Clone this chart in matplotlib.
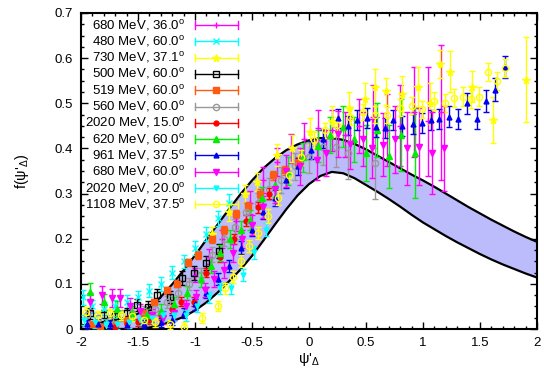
import matplotlib
matplotlib.use("Agg")
import matplotlib.pyplot as plt
from matplotlib.ticker import MultipleLocator, FuncFormatter

plt.rcParams['font.family'] = ['Liberation Sans', 'DejaVu Sans']
plt.rcParams['mathtext.fontset'] = 'custom'
plt.rcParams['mathtext.rm'] = 'Liberation Sans'
plt.rcParams['mathtext.it'] = 'Liberation Sans:italic'
plt.rcParams['mathtext.bf'] = 'Liberation Sans:bold'
plt.rcParams['axes.unicode_minus'] = False

# Scaling-function band (upper / lower edge) on a psi' grid
psi_grid = [-2.0, -1.9, -1.8, -1.7, -1.6, -1.5, -1.4, -1.3, -1.2, -1.1, -1.0,
            -0.9, -0.8, -0.7, -0.6, -0.5, -0.4, -0.3, -0.2, -0.1, 0.0,
            0.1, 0.2, 0.3, 0.4, 0.5, 0.6, 0.7, 0.8, 0.9, 1.0,
            1.1, 1.2, 1.3, 1.4, 1.5, 1.6, 1.7, 1.8, 1.9, 2.0]
band_upper = [0.008, 0.011, 0.015, 0.020, 0.026, 0.034, 0.048, 0.071, 0.099, 0.130, 0.163,
              0.198, 0.232, 0.266, 0.299, 0.329, 0.356, 0.378, 0.396, 0.409, 0.418,
              0.423, 0.423, 0.419, 0.410, 0.398, 0.384, 0.370, 0.356, 0.342, 0.329,
              0.315, 0.300, 0.285, 0.270, 0.256, 0.242, 0.229, 0.216, 0.204, 0.193]
band_lower = [0.0, 0.0, 0.0, 0.0, 0.0, 0.0, 0.003, 0.009, 0.017, 0.027, 0.041,
              0.059, 0.081, 0.106, 0.132, 0.162, 0.196, 0.231, 0.265, 0.296, 0.321,
              0.339, 0.348, 0.345, 0.334, 0.319, 0.304, 0.288, 0.271, 0.253, 0.236,
              0.221, 0.206, 0.192, 0.179, 0.166, 0.154, 0.143, 0.133, 0.123, 0.114]

# Data sets: psi', f(psi'), error
x_680_36 = [-1.0, -0.88, -0.76, -0.64, -0.52, -0.4, -0.28, -0.16, -0.04, 0.08, 0.2, 0.32, 0.44, 0.56, 0.68, 0.8, 0.92, 1.04, 1.16]
y_680_36 = [0.12, 0.16, 0.2, 0.24, 0.28, 0.33, 0.37, 0.4, 0.42, 0.445, 0.44, 0.43, 0.45, 0.47, 0.44, 0.45, 0.48, 0.46, 0.48]
e_680_36 = [0.015, 0.017, 0.02, 0.022, 0.025, 0.028, 0.03, 0.033, 0.037, 0.04, 0.045, 0.05, 0.06, 0.07, 0.08, 0.09, 0.1, 0.12, 0.15]

x_480_60 = [-1.98, -1.9, -1.8, -1.7, -1.6, -1.5, -1.4, -1.3, -1.2, -1.1, -1.0, -0.9, -0.8, -0.7]
y_480_60 = [0.07, 0.05, 0.045, 0.05, 0.06, 0.07, 0.085, 0.10, 0.125, 0.15, 0.18, 0.21, 0.245, 0.28]
e_480_60 = [0.016, 0.015, 0.015, 0.015, 0.015, 0.015, 0.015, 0.015, 0.015, 0.015, 0.016, 0.016, 0.017, 0.018]

x_730_37 = [-0.85, -0.7, -0.56, -0.46, -0.28, -0.15, 0.01, 0.2, 0.35, 0.49, 0.58, 0.675, 0.82, 0.96, 1.06, 1.15, 1.24, 1.43, 1.61, 1.9]
y_730_37 = [0.21, 0.26, 0.30, 0.326, 0.385, 0.40, 0.437, 0.46, 0.49, 0.51, 0.535, 0.527, 0.52, 0.536, 0.50, 0.587, 0.57, 0.537, 0.463, 0.552]
e_730_37 = [0.015, 0.02, 0.02, 0.02, 0.025, 0.03, 0.03, 0.035, 0.035, 0.035, 0.04, 0.03, 0.04, 0.045, 0.045, 0.03, 0.045, 0.035, 0.05, 0.094]

x_500_60 = [-1.92, -1.8, -1.7, -1.6, -1.51, -1.41, -1.33, -1.22, -1.11, -1.01, -0.9, -0.79]
y_500_60 = [0.035, 0.03, 0.028, 0.035, 0.053, 0.049, 0.075, 0.071, 0.113, 0.124, 0.146, 0.173]
e_500_60 = [0.012, 0.012, 0.012, 0.012, 0.013, 0.013, 0.014, 0.014, 0.015, 0.015, 0.016, 0.016]

x_519_60 = [-1.9, -1.83, -1.7, -1.6, -1.45, -1.36, -1.25, -1.16, -1.06, -0.97, -0.853, -0.746, -0.64, -0.532, -0.43, -0.316, -0.21, -0.096]
y_519_60 = [0.01, 0.005, 0.012, 0.02, 0.036, 0.06, 0.086, 0.10, 0.148, 0.164, 0.20, 0.219, 0.255, 0.272, 0.30, 0.341, 0.352, 0.37]
e_519_60 = [0.006, 0.006, 0.006, 0.007, 0.007, 0.007, 0.008, 0.008, 0.008, 0.008, 0.009, 0.009, 0.009, 0.01, 0.01, 0.01, 0.01, 0.01]

x_560_60 = [-1.95, -1.85, -1.75, -1.65, -1.55, -1.45, -1.35, -1.25, -1.15, -1.05, -0.95, -0.85, -0.75, -0.65, -0.55, -0.45, -0.35, -0.25, -0.12, 0.0, 0.12, 0.237, 0.34, 0.58]
y_560_60 = [0.03, 0.025, 0.02, 0.03, 0.035, 0.04, 0.045, 0.06, 0.08, 0.10, 0.12, 0.165, 0.20, 0.225, 0.26, 0.28, 0.31, 0.33, 0.36, 0.38, 0.404, 0.403, 0.39, 0.368]
e_560_60 = [0.012, 0.012, 0.012, 0.012, 0.012, 0.012, 0.013, 0.013, 0.014, 0.014, 0.015, 0.016, 0.017, 0.018, 0.02, 0.022, 0.025, 0.028, 0.03, 0.035, 0.04, 0.045, 0.057, 0.08]

x_2020_15 = [-1.7, -1.6, -1.5, -1.4, -1.3, -1.2, -1.12, -1.01, -0.9, -0.78, -0.66, -0.55, -0.45, -0.35]
y_2020_15 = [0.005, 0.01, 0.015, 0.02, 0.03, 0.045, 0.06, 0.06, 0.125, 0.16, 0.20, 0.24, 0.27, 0.30]
e_2020_15 = [0.008, 0.008, 0.008, 0.009, 0.009, 0.01, 0.01, 0.01, 0.01, 0.011, 0.011, 0.012, 0.012, 0.013]

x_620_60 = [-1.92, -1.8, -1.68, -1.55, -1.42, -1.3, -1.18, -1.07, -0.95, -0.86, -0.78, -0.69, -0.6, -0.52, -0.41, -0.3, -0.18, -0.05, 0.08, 0.18, 0.295, 0.395, 0.5, 0.6, 0.70, 0.81, 0.93]
y_620_60 = [0.083, 0.06, 0.045, 0.035, 0.03, 0.04, 0.055, 0.08, 0.11, 0.14, 0.168, 0.2, 0.22, 0.241, 0.29, 0.32, 0.35, 0.38, 0.405, 0.43, 0.448, 0.42, 0.39, 0.44, 0.383, 0.43, 0.39]
e_620_60 = [0.02, 0.018, 0.016, 0.015, 0.015, 0.015, 0.015, 0.016, 0.016, 0.017, 0.018, 0.02, 0.02, 0.022, 0.025, 0.028, 0.03, 0.032, 0.035, 0.04, 0.045, 0.05, 0.063, 0.06, 0.07, 0.08, 0.1]

x_961_37 = [-1.95, -1.85, -1.75, -1.6, -1.45, -1.3, -1.2, -1.1, -1.0, -0.9, -0.8, -0.7, -0.6, -0.5, -0.4, -0.3, -0.2, -0.1, 0.02, 0.12, 0.25, 0.34, 0.42, 0.51, 0.59, 0.67, 0.74, 0.82, 0.91, 0.99, 1.07, 1.14, 1.23, 1.31, 1.39, 1.47, 1.55, 1.63, 1.72]
y_961_37 = [0.01, 0.012, 0.01, 0.008, 0.01, 0.015, 0.02, 0.035, 0.055, 0.08, 0.11, 0.14, 0.18, 0.22, 0.26, 0.29, 0.33, 0.36, 0.397, 0.42, 0.467, 0.45, 0.463, 0.467, 0.448, 0.445, 0.463, 0.45, 0.455, 0.456, 0.463, 0.465, 0.47, 0.465, 0.50, 0.465, 0.505, 0.53, 0.58]
e_961_37 = [0.01, 0.01, 0.01, 0.01, 0.01, 0.01, 0.011, 0.011, 0.012, 0.012, 0.013, 0.013, 0.014, 0.015, 0.016, 0.017, 0.018, 0.019, 0.02, 0.02, 0.021, 0.021, 0.022, 0.022, 0.022, 0.022, 0.022, 0.022, 0.022, 0.022, 0.022, 0.022, 0.023, 0.023, 0.023, 0.023, 0.024, 0.025, 0.025]

x_680_60 = [-1.92, -1.82, -1.73, -1.66, -1.57, -1.48, -1.38, -1.28, -1.18, -1.08, -0.99, -0.91, -0.83, -0.75, -0.67, -0.59, -0.5, -0.4, -0.3, -0.2, -0.08, 0.067, 0.15, 0.25, 0.36, 0.47, 0.55, 0.65, 0.755, 0.86, 0.965, 1.08, 1.18]
y_680_60 = [0.06, 0.075, 0.068, 0.068, 0.05, 0.04, 0.03, 0.025, 0.035, 0.05, 0.07, 0.086, 0.11, 0.13, 0.168, 0.2, 0.23, 0.27, 0.31, 0.35, 0.36, 0.374, 0.39, 0.432, 0.41, 0.42, 0.40, 0.408, 0.42, 0.40, 0.404, 0.39, 0.40]
e_680_60 = [0.02, 0.02, 0.02, 0.02, 0.018, 0.016, 0.015, 0.015, 0.014, 0.015, 0.016, 0.016, 0.018, 0.018, 0.02, 0.02, 0.022, 0.025, 0.03, 0.035, 0.04, 0.045, 0.05, 0.05, 0.055, 0.06, 0.065, 0.07, 0.075, 0.08, 0.085, 0.09, 0.095]

x_2020_20 = [-1.97, -1.88, -1.78, -1.68, -1.58, -1.48, -1.38, -1.28, -1.18, -1.08, -0.98, -0.88, -0.78, -0.68, -0.58, -0.48, -0.38]
y_2020_20 = [0.02, 0.015, 0.01, 0.012, 0.015, 0.02, 0.025, 0.03, 0.03, 0.03, 0.05, 0.07, 0.09, 0.09, 0.12, 0.17, 0.22]
e_2020_20 = [0.012, 0.012, 0.012, 0.012, 0.012, 0.012, 0.012, 0.012, 0.012, 0.012, 0.012, 0.013, 0.013, 0.013, 0.014, 0.014, 0.015]

x_1108_37 = [-1.96, -1.85, -1.75, -1.65, -1.55, -1.45, -1.35, -1.22, -1.1, -0.94, -0.8, -0.74, -0.67, -0.6, -0.53, -0.45, -0.36, -0.27, -0.175, -0.07, 0.04, 0.14, 0.245, 0.36, 0.47, 0.58, 0.68, 0.8, 0.9, 0.99, 1.1, 1.19, 1.27, 1.35, 1.42, 1.49, 1.57, 1.65, 1.72]
y_1108_37 = [0.038, 0.03, 0.035, 0.03, 0.028, 0.02, 0.015, 0.01, 0.005, 0.024, 0.051, 0.09, 0.116, 0.15, 0.184, 0.213, 0.25, 0.29, 0.341, 0.38, 0.419, 0.44, 0.452, 0.47, 0.48, 0.475, 0.474, 0.49, 0.495, 0.487, 0.505, 0.50, 0.512, 0.515, 0.51, 0.515, 0.57, 0.549, 0.579]
e_1108_37 = [0.01, 0.01, 0.01, 0.01, 0.01, 0.01, 0.01, 0.01, 0.01, 0.011, 0.012, 0.012, 0.013, 0.013, 0.014, 0.014, 0.015, 0.015, 0.016, 0.016, 0.017, 0.017, 0.018, 0.018, 0.018, 0.018, 0.018, 0.019, 0.019, 0.019, 0.02, 0.02, 0.02, 0.02, 0.02, 0.02, 0.02, 0.02, 0.02]

labels = ["680 MeV, 36.0$^{\\mathrm{o}}$", "480 MeV, 60.0$^{\\mathrm{o}}$",
          "730 MeV, 37.1$^{\\mathrm{o}}$", "500 MeV, 60.0$^{\\mathrm{o}}$",
          "519 MeV, 60.0$^{\\mathrm{o}}$", "560 MeV, 60.0$^{\\mathrm{o}}$",
          "2020 MeV, 15.0$^{\\mathrm{o}}$", "620 MeV, 60.0$^{\\mathrm{o}}$",
          "961 MeV, 37.5$^{\\mathrm{o}}$", "680 MeV, 60.0$^{\\mathrm{o}}$",
          "2020 MeV, 20.0$^{\\mathrm{o}}$", "1108 MeV, 37.5$^{\\mathrm{o}}$"]

datasets = [(x_680_36, y_680_36, e_680_36), (x_480_60, y_480_60, e_480_60),
            (x_730_37, y_730_37, e_730_37), (x_500_60, y_500_60, e_500_60),
            (x_519_60, y_519_60, e_519_60), (x_560_60, y_560_60, e_560_60),
            (x_2020_15, y_2020_15, e_2020_15), (x_620_60, y_620_60, e_620_60),
            (x_961_37, y_961_37, e_961_37), (x_680_60, y_680_60, e_680_60),
            (x_2020_20, y_2020_20, e_2020_20), (x_1108_37, y_1108_37, e_1108_37)]

# marker style per data set: (colour, marker, size, filled)
styles = [("#ff00ff", "+", 5.0, True),
          ("#00ffff", "x", 4.0, True),
          ("#ffff00", "*", 5.5, True),
          ("#000000", "s", 4.0, False),
          ("#ff5a10", "s", 5.0, True),
          ("#999999", "o", 4.5, False),
          ("#ff0000", "o", 3.5, True),
          ("#00ee00", "^", 4.5, True),
          ("#0000ee", "^", 3.5, True),
          ("#ff00ff", "v", 4.5, True),
          ("#00ffff", "v", 3.5, True),
          ("#ffff00", "o", 4.5, False)]

fig = plt.figure(figsize=(5.44, 3.79), dpi=100)
ax = fig.add_axes([81 / 544, 50 / 379, 456 / 544, 316 / 379])

ax.fill_between(psi_grid, band_lower, band_upper, color="#bcbcfc", lw=0, zorder=1)
ax.plot(psi_grid, band_upper, color="black", lw=1.6, zorder=2, solid_joinstyle="round")
ax.plot(psi_grid, band_lower, color="black", lw=1.6, zorder=2, solid_joinstyle="round")

for (xs, ys, es), (c, m, ms, filled) in zip(datasets, styles):
    ax.errorbar(xs, ys, yerr=es, fmt=m, color=c, ms=ms,
                mfc=c if filled else "none", mec=c, mew=1.0,
                elinewidth=1.0, capsize=2.0, capthick=1.0, zorder=3)

# key: right-aligned text followed by a horizontal error-bar sample
fs = 9.5
x_txt, xa, xb = 0.228, 0.25, 0.344
cap = 0.012
for i, (lab, (c, m, ms, filled)) in enumerate(zip(labels, styles)):
    yy = 0.962 - i * 0.0516
    ax.text(x_txt, yy, lab, transform=ax.transAxes, ha="right", va="center",
            fontsize=fs, zorder=10)
    ax.plot([xa, xb], [yy, yy], transform=ax.transAxes, color=c, lw=1.0, zorder=10)
    ax.plot([xa, xa], [yy - cap, yy + cap], transform=ax.transAxes, color=c, lw=1.0, zorder=10)
    ax.plot([xb, xb], [yy - cap, yy + cap], transform=ax.transAxes, color=c, lw=1.0, zorder=10)
    ax.plot([(xa + xb) / 2], [yy], transform=ax.transAxes, marker=m, color=c, ms=ms,
            mfc=c if filled else "none", mec=c, mew=1.0, zorder=11)

ax.set_xlim(-2, 2)
ax.set_ylim(0, 0.7)
ax.xaxis.set_major_locator(MultipleLocator(0.5))
ax.xaxis.set_minor_locator(MultipleLocator(0.1))
ax.yaxis.set_major_locator(MultipleLocator(0.1))
ax.yaxis.set_minor_locator(MultipleLocator(0.025))
fmt = FuncFormatter(lambda v, p: "%g" % round(v, 3))
ax.xaxis.set_major_formatter(fmt)
ax.yaxis.set_major_formatter(fmt)
ax.tick_params(which="both", direction="in", top=True, right=True, width=1.0, labelsize=fs)
ax.tick_params(which="major", length=5, pad=6)
ax.tick_params(which="minor", length=2.5)
for s in ax.spines.values():
    s.set_linewidth(1.5)

ax.set_xlabel("ψ'$_{\\Delta}$", fontsize=fs + 1, labelpad=1)
ax.set_ylabel("f(ψ'$_{\\Delta}$)", fontsize=fs + 1, labelpad=17)

fig.savefig("out.png", dpi=100)
